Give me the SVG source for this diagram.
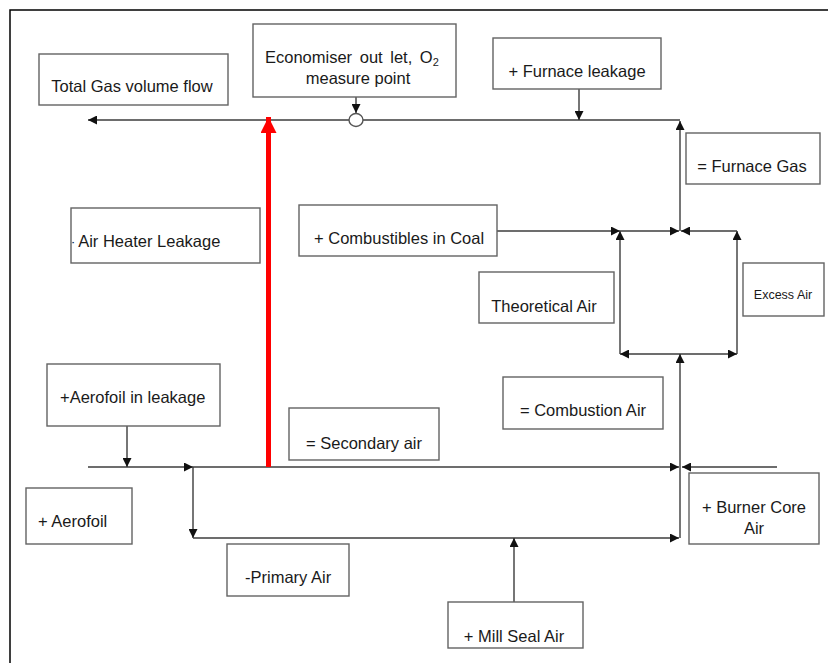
<svg xmlns="http://www.w3.org/2000/svg" width="828" height="663" viewBox="0 0 828 663">
  <style>
    .box { fill: #ffffff; stroke: #636363; stroke-width: 1.4; }
    .lbl { font-family: "Liberation Sans", Arial, sans-serif; font-size: 16.5px; fill: #1a1a1a; }
    .small { font-size: 12.5px; }
    .ln { fill: none; stroke: #3c3c3c; stroke-width: 1.4; }
    .arr { marker-end: url(#ah); }
  </style>
  <defs>
    <marker id="ah" viewBox="0 0 10 10" refX="10" refY="5" markerWidth="9" markerHeight="9" markerUnits="userSpaceOnUse" orient="auto">
      <path d="M0,0 L10,5 L0,10 Z" fill="#111111"/>
    </marker>
    <marker id="ahRed" viewBox="0 0 10 10" refX="10" refY="5" markerWidth="16" markerHeight="16" markerUnits="userSpaceOnUse" orient="auto">
      <path d="M0,0 L10,5 L0,10 Z" fill="#ff0000"/>
    </marker>
    <clipPath id="clipAHL">
      <rect x="72.5" y="209" width="187" height="53"/>
    </clipPath>
  </defs>

  <rect width="828" height="663" fill="#ffffff"/>
  <!-- frame -->
  <path d="M10,663 L10,10 L828,10" fill="none" stroke="#000000" stroke-width="1.5"/>

  <!-- connectors -->
  <g id="connectors">
    <!-- flue gas line -->
    <line class="ln arr" x1="680" y1="120" x2="88" y2="120"/>
    <line class="ln arr" x1="356" y1="97" x2="356" y2="113"/>
    <line class="ln arr" x1="579" y1="89" x2="579" y2="120"/>
    <line class="ln arr" x1="680" y1="231" x2="680" y2="121"/>
    <!-- combustion box -->
    <line class="ln arr" x1="497" y1="231" x2="620" y2="231"/>
    <line class="ln arr" x1="620" y1="354" x2="620" y2="231"/>
    <line class="ln arr" x1="737" y1="354" x2="737" y2="231"/>
    <line class="ln arr" x1="620" y1="231" x2="679" y2="231"/>
    <line class="ln arr" x1="737" y1="231" x2="681" y2="231"/>
    <line class="ln arr" x1="680" y1="354" x2="620" y2="354"/>
    <line class="ln arr" x1="680" y1="354" x2="737" y2="354"/>
    <line class="ln arr" x1="680" y1="538" x2="680" y2="354"/>
    <!-- air lines -->
    <line class="ln arr" x1="88" y1="467" x2="193" y2="467"/>
    <line class="ln arr" x1="127" y1="426" x2="127" y2="467"/>
    <line class="ln arr" x1="193" y1="467" x2="679" y2="467"/>
    <line class="ln arr" x1="777" y1="467" x2="682" y2="467"/>
    <line class="ln arr" x1="193" y1="467" x2="193" y2="538"/>
    <line class="ln arr" x1="193" y1="538" x2="679" y2="538"/>
    <line class="ln arr" x1="514" y1="602" x2="514" y2="538"/>
    <!-- air heater leakage -->
    <line x1="268.5" y1="467" x2="268.5" y2="117" stroke="#ff0000" stroke-width="5" marker-end="url(#ahRed)"/>
    <ellipse cx="356" cy="120" rx="7" ry="6.5" fill="#ffffff" stroke="#555555" stroke-width="1.4"/>
  </g>

  <g id="total-gas">
    <rect class="box" x="39" y="54" width="189" height="51"/>
    <text class="lbl" x="132" y="92" text-anchor="middle">Total Gas volume flow</text>
  </g>
  <g id="economiser">
    <rect class="box" x="253" y="24" width="203" height="73"/>
    <text class="lbl" x="265" y="63" word-spacing="3">Economiser out let, O<tspan font-size="11" dy="3">2</tspan></text>
    <text class="lbl" x="358" y="84" text-anchor="middle">measure point</text>
  </g>
  <g id="furnace-leakage">
    <rect class="box" x="493" y="38" width="168" height="51"/>
    <text class="lbl" x="577" y="77" text-anchor="middle">+ Furnace leakage</text>
  </g>
  <g id="furnace-gas">
    <rect class="box" x="686" y="133" width="134" height="51"/>
    <text class="lbl" x="752" y="172" text-anchor="middle">= Furnace Gas</text>
  </g>
  <g id="air-heater-leakage">
    <rect class="box" x="71" y="208" width="189" height="55"/>
    <text class="lbl" x="69" y="247" clip-path="url(#clipAHL)">- Air Heater Leakage</text>
  </g>
  <g id="combustibles">
    <rect class="box" x="299" y="205" width="198" height="51"/>
    <text class="lbl" x="314" y="244">+ Combustibles in Coal</text>
  </g>
  <g id="theoretical-air">
    <rect class="box" x="479" y="272" width="135" height="51"/>
    <text class="lbl" x="544" y="312" text-anchor="middle">Theoretical Air</text>
  </g>
  <g id="excess-air">
    <rect class="box" x="743" y="263" width="81" height="53"/>
    <text class="lbl small" x="783" y="299" text-anchor="middle">Excess Air</text>
  </g>
  <g id="aerofoil-leakage">
    <rect class="box" x="47" y="364" width="173" height="62"/>
    <text class="lbl" x="60" y="403">+Aerofoil in leakage</text>
  </g>
  <g id="secondary-air">
    <rect class="box" x="289" y="408" width="150" height="52"/>
    <text class="lbl" x="306" y="449">= Secondary air</text>
  </g>
  <g id="combustion-air">
    <rect class="box" x="503" y="377" width="160" height="52"/>
    <text class="lbl" x="583" y="416" text-anchor="middle">= Combustion Air</text>
  </g>
  <g id="aerofoil">
    <rect class="box" x="26" y="488" width="106" height="56"/>
    <text class="lbl" x="38" y="527">+ Aerofoil</text>
  </g>
  <g id="burner-core-air">
    <rect class="box" x="689" y="473" width="130" height="71"/>
    <text class="lbl" x="754" y="513" text-anchor="middle">+ Burner Core</text>
    <text class="lbl" x="754" y="534" text-anchor="middle">Air</text>
  </g>
  <g id="primary-air">
    <rect class="box" x="227" y="544" width="122" height="52"/>
    <text class="lbl" x="245" y="583">-Primary Air</text>
  </g>
  <g id="mill-seal-air">
    <rect class="box" x="448" y="602" width="135" height="46"/>
    <text class="lbl" x="514" y="642" text-anchor="middle">+ Mill Seal Air</text>
  </g>
</svg>
